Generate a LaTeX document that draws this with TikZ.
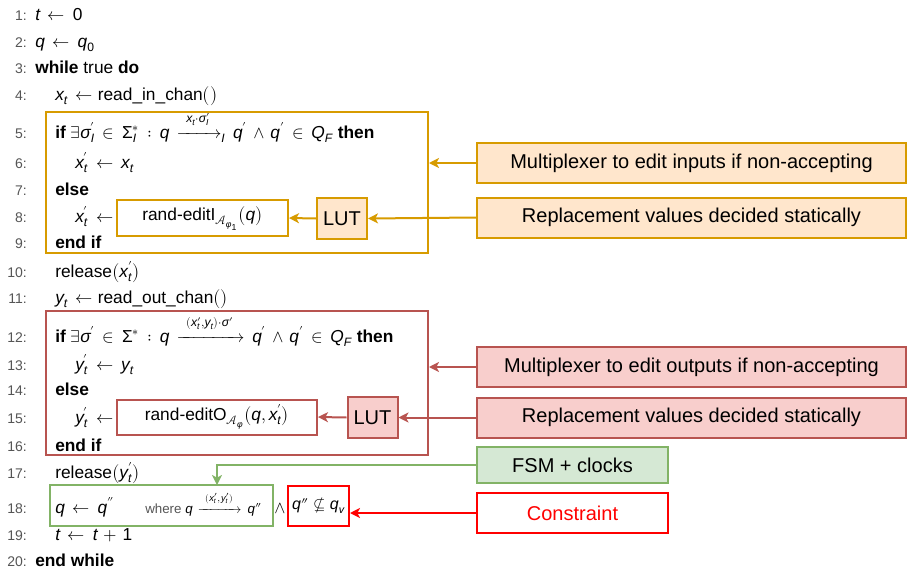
\documentclass[tikz,border=0pt]{standalone}
\usepackage{amsmath}
\usepackage{fontspec}
\usepackage{unicode-math}
\setmainfont{Liberation Sans}
\setmathfont{Latin Modern Math}
\setmathfont[range={it/{latin,Latin,greek,Greek}}]{Liberation Sans Italic}
\setmathfont[range={up/{num,Greek}}]{Liberation Sans}
\usetikzlibrary{arrows.meta}

\definecolor{orline}{HTML}{D79B00}
\definecolor{orfill}{HTML}{FFE6CC}
\definecolor{rdline}{HTML}{B85450}
\definecolor{rdfill}{HTML}{F8CECC}
\definecolor{grline}{HTML}{82B366}
\definecolor{grfill}{HTML}{D5E8D4}
\definecolor{numgrey}{HTML}{555555}

\thickmuskip=8mu plus 4mu
\medmuskip=6mu plus 2mu

\tikzstyle{alg} = [anchor=base west, inner sep=0pt, font=\fontsize{13}{15}\selectfont]
\tikzstyle{num} = [anchor=base east, inner sep=0pt, text=numgrey, font=\fontsize{10.5}{12}\selectfont]
\tikzstyle{frame} = [rectangle, line width=1.5pt, inner sep=0pt, font=\fontsize{12}{14}\selectfont]
\tikzstyle{label} = [rectangle, line width=1.5pt, minimum width=321.75pt, minimum height=30pt, text centered, font=\fontsize{15}{18}\selectfont]
\tikzstyle{lut} = [rectangle, line width=1.5pt, minimum width=37.5pt, minimum height=30.75pt, inner sep=0pt, font=\fontsize{15}{18}\selectfont]
\tikzstyle{call} = [rectangle, line width=1.5pt, anchor=west, inner xsep=5pt, inner ysep=0pt, font=\fontsize{13}{15}\selectfont]
\tikzstyle{arrow} = [line width=1.5pt, -{Stealth[length=7.5pt, width=7.5pt, inset=2pt]}]

\begin{document}
\begin{tikzpicture}[x=0.75pt, y=-0.75pt]
    \useasboundingbox (0,0) rectangle (908,568);

    % line numbers
    \foreach \n/\y in {1/20, 2/47, 3/73, 4/100, 5/138, 6/168, 7/195, 8/222, 9/248, 10/277,
                       11/303, 12/342, 13/370, 14/395, 15/423, 16/451, 17/478, 18/513, 19/540, 20/566}
        \node (n\n) [num] at (27,\y) {\n:};

    % algorithm
    \node (l1) [alg] at (35,20) {$t \leftarrow 0$};
    \node (l2) [alg] at (35,47) {$q \leftarrow q_0$};
    \node (l3) [alg] at (35,73) {\textbf{while} true \textbf{do}};
    \node (l4) [alg] at (55,100) {$x_t \leftarrow$ read\_in\_chan$\big(\big)$};
    \node (l5) [alg] at (55,138) {\textbf{if} $\exists\sigma'_I \in \Sigma_I^* : q \xrightarrow{\;x_t\cdot\sigma'_I\;}_I q' \wedge q' \in Q_F$ \textbf{then}};
    \node (l6) [alg] at (75,168) {$x'_t \leftarrow x_t$};
    \node (l7) [alg] at (55,195) {\textbf{else}};
    \node (l8) [alg] at (75,222) {$x'_t \leftarrow$};
    \node (l9) [alg] at (55,248) {\textbf{end if}};
    \node (l10) [alg] at (55,277) {release$\big(x'_t\big)$};
    \node (l11) [alg] at (55,303) {$y_t \leftarrow$ read\_out\_chan$\big(\big)$};
    \node (l12) [alg] at (55,342) {\textbf{if} $\exists\sigma' \in \Sigma^* : q \xrightarrow{\;(x'_t,y_t)\cdot\sigma'\;} q' \wedge q' \in Q_F$ \textbf{then}};
    \node (l13) [alg] at (75,370) {$y'_t \leftarrow y_t$};
    \node (l14) [alg] at (55,395) {\textbf{else}};
    \node (l15) [alg] at (75,423) {$y'_t \leftarrow$};
    \node (l16) [alg] at (55,451) {\textbf{end if}};
    \node (l17) [alg] at (55,478) {release$\big(y'_t\big)$};
    \node (l18) [alg] at (55,513) {$q \leftarrow q''$};
    \node (where) [alg, font=\fontsize{10}{12}\selectfont] at (145,513) {\textcolor{numgrey}{where} $q \xrightarrow{\;(x'_t,y'_t)\;} q''$};
    \node (wedge) [alg] at (274,513) {$\wedge$};
    \node (l19) [alg] at (55,540) {$t \leftarrow t+1$};
    \node (l20) [alg] at (35,566) {\textbf{end while}};

    % input side
    \node (inbox) [frame, draw=orline, minimum width=286.5pt, minimum height=105.75pt] at (237,182.5) {};
    \node (editI) [call, draw=orline, minimum width=128.25pt, minimum height=27pt] at (116,218) {rand-editI$_{\mathcal{A}_{\varphi_1}}\big(q\big)$};
    \node (lutI) [lut, draw=orline, fill=orfill] at (342,218.5) {LUT};
    \node (muxI) [label, draw=orline, fill=orfill] at (691.5,163) {Multiplexer to edit inputs if non-accepting};
    \node (repI) [label, draw=orline, fill=orfill] at (691.5,217.5) {Replacement values decided statically};

    % output side
    \node (outbox) [frame, draw=rdline, minimum width=286.5pt, minimum height=108pt] at (237,383) {};
    \node (editO) [call, draw=rdline, minimum width=150pt, minimum height=26.25pt] at (116,417) {rand-editO$_{\mathcal{A}_{\varphi}}\big(q, x'_t\big)$};
    \node (lutO) [lut, draw=rdline, fill=rdfill] at (372.5,417.5) {LUT};
    \node (muxO) [label, draw=rdline, fill=rdfill] at (691.5,367) {Multiplexer to edit outputs if non-accepting};
    \node (repO) [label, draw=rdline, fill=rdfill] at (691.5,417.5) {Replacement values decided statically};

    % state update
    \node (fsmbox) [frame, draw=grline, minimum width=167.25pt, minimum height=30.75pt] at (161.5,505.5) {};
    \node (cstbox) [frame, draw=red, minimum width=45.75pt, minimum height=30pt] at (318.5,506) {$q''\!\nsubseteq\! q_v$};
    \node (fsm) [label, draw=grline, fill=grfill, minimum width=143.25pt, minimum height=27pt] at (572.5,465) {FSM + clocks};
    \node (cst) [label, draw=red, text=red, minimum width=143.25pt] at (572.5,513) {Constraint};
    \coordinate (fsmin) at (217,485);

    \draw[arrow, orline] (muxI.west) -- (muxI.west -| inbox.east);
    \draw[arrow, orline] (repI.west) -- (lutI.east);
    \draw[arrow, orline] (lutI.west) -- (editI.east);
    \draw[arrow, rdline] (muxO.west) -- (muxO.west -| outbox.east);
    \draw[arrow, rdline] (repO.west) -- (lutO.east);
    \draw[arrow, rdline] (lutO.west) -- (editO.east);
    \draw[arrow, grline] (fsm.west) -| (fsmin);
    \draw[arrow, red] (cst.west) -- (cst.west -| cstbox.east);

\end{tikzpicture}
\end{document}
